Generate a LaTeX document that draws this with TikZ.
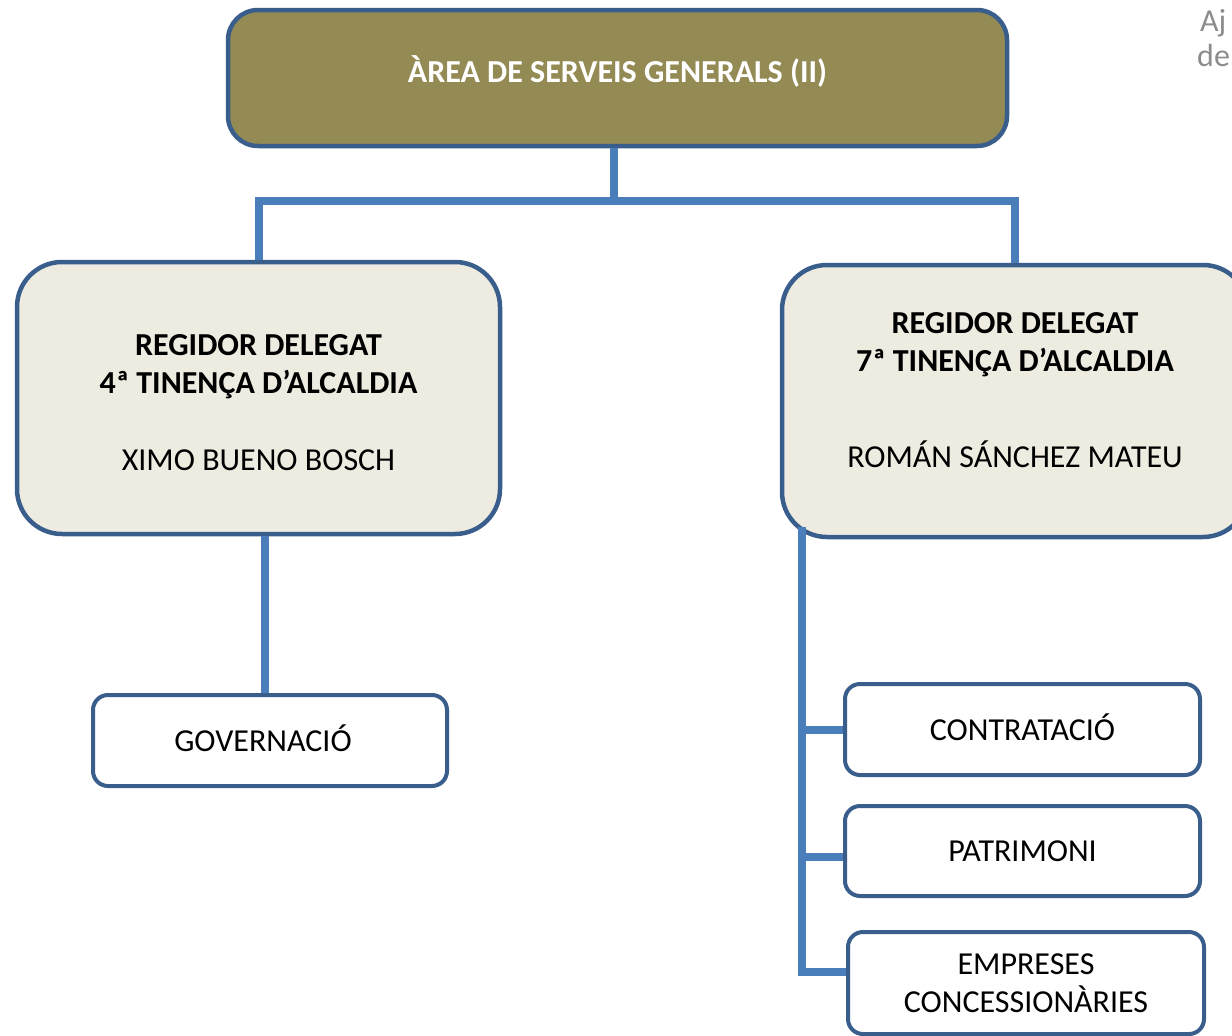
\documentclass[tikz,border=0pt]{standalone}
\usepackage{fontspec}
\setmainfont{Carlito}
\definecolor{areaolive}{HTML}{948A54}
\definecolor{regbeige}{HTML}{EEECE1}
\definecolor{edgeblue}{HTML}{3A5E8C}
\definecolor{linkblue}{HTML}{4A7EBB}
\definecolor{logogray}{HTML}{8C8C8C}
\begin{document}
\begin{tikzpicture}[x=1pt,y=-1pt,
		every node/.style={font=\fontsize{32}{38}\selectfont},
		unit/.style={draw=edgeblue,line width=4pt,fill=white,rounded corners=15pt,
			inner sep=0pt,minimum width=355pt,minimum height=91pt,align=center},
		leaf/.style={unit,text height=21pt,text depth=0pt},
		regbox/.style={unit,fill=regbeige,line width=4.5pt,rounded corners=45pt,
			minimum width=#1,minimum height=272pt},
		regtext/.style={align=center,inner sep=0pt},
		logo/.style={anchor=base west,inner sep=0pt,text=logogray,font=\fontsize{32}{38}\selectfont},
		link/.style={draw=linkblue,line width=8pt}]
		\useasboundingbox (0,0) rectangle (1232,1036);

		% boxes
		\node[unit,fill=areaolive,rounded corners=30pt,line width=4.5pt,minimum width=779pt,minimum height=136pt,
			text=white,font=\fontsize{32}{38}\selectfont\bfseries,text height=21pt,text depth=12.4pt]
			(area) at (617.5,78) {ÀREA DE SERVEIS GENERALS (II)};
		\node[regbox=483pt] (reg4) at (258.5,398) {};
		\node[regbox=466pt] (reg7) at (1015,401) {};
		\node[regtext] (reg4txt) at ([yshift=-5pt]reg4.center)
			{\textbf{REGIDOR DELEGAT}\\\textbf{4ª TINENÇA D’ALCALDIA}\\[39pt]XIMO BUENO BOSCH};
		\node[regtext] (reg7txt) at ([yshift=11pt]reg7.center)
			{\textbf{REGIDOR DELEGAT}\\\textbf{7ª TINENÇA D’ALCALDIA}\\[58pt]ROMÁN SÁNCHEZ MATEU};
		\node[leaf,minimum width=354pt] (gov) at (270,740.5) {GOVERNACIÓ\hspace*{14pt}};
		\node[leaf] (contr) at (1022.5,729.5) {CONTRATACIÓ};
		\node[leaf,minimum height=90pt] (patr) at (1022.5,851) {PATRIMONI};
		\node[unit,minimum width=356pt,minimum height=102pt] (emp) at (1026,983) {EMPRESES\\CONCESSIONÀRIES};
		\node[logo] (aj) at (1200,31) {Aj};
		\node[logo] (de) at (1197,66) {de};

		% connectors
		\coordinate (split) at (614,201);
		\draw[link] (area.south -| split) -- (split);
		\draw[link] (reg4.north) |- (split) -| (reg7.north);
		\draw[link] ([xshift=6.5pt]reg4.south) -- ([xshift=-5pt]gov.north);
		\coordinate (spinetop) at ([shift={(22.5,-12)}]reg7.south west);
		\draw[link] (spinetop) |- ([yshift=11pt]emp.west);
		\draw[link] (contr.west) -- (contr.west -| spinetop);
		\draw[link] ([yshift=-6pt]patr.west) -- ([yshift=-6pt]patr.west -| spinetop);
\end{tikzpicture}
\end{document}
